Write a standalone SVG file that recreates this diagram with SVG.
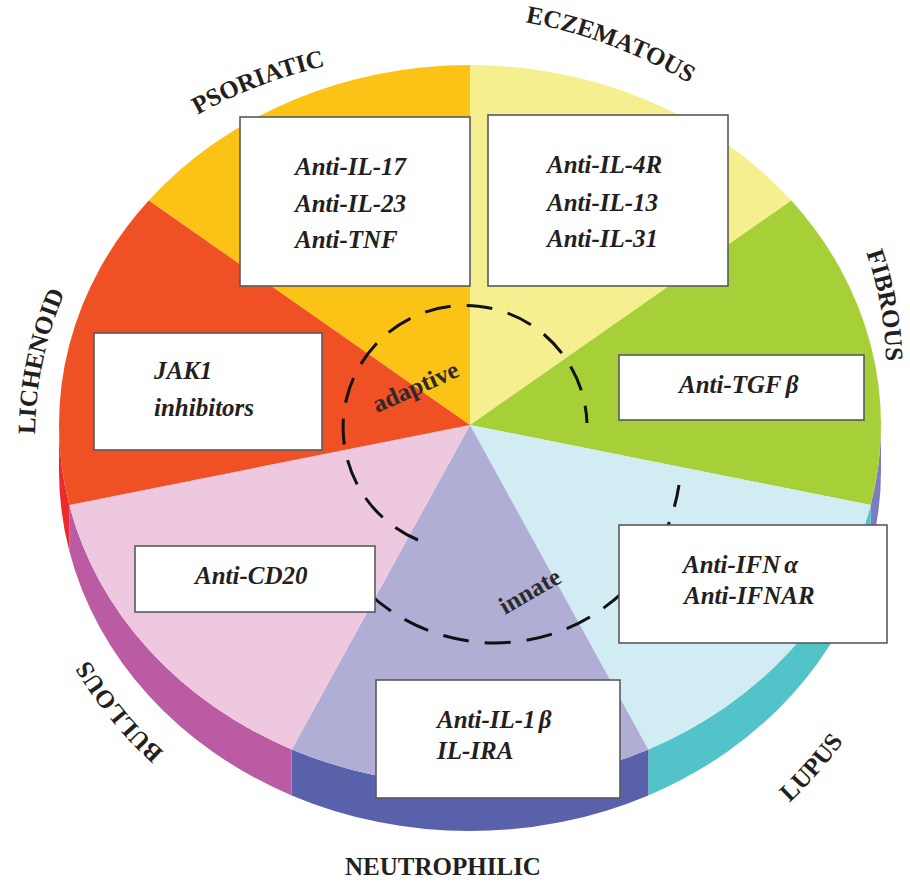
<svg xmlns="http://www.w3.org/2000/svg" width="910" height="882" viewBox="0 0 910 882">
<style>
.box{fill:#ffffff;stroke:#58595b;stroke-width:1.6}
.drug{font-family:"Liberation Serif","Times New Roman",serif;font-weight:bold;font-style:italic;font-size:25px;fill:#231f20}
.lab{font-family:"Liberation Serif","Times New Roman",serif;font-weight:bold;font-size:25px;fill:#231f20}
.zone{font-family:"Liberation Serif","Times New Roman",serif;font-weight:bold;font-size:25px;fill:#2b2b2b}
.dash{fill:none;stroke:#111111;stroke-width:3;stroke-dasharray:26 16}
</style>
<defs>
<path id="pPso" d="M 197,115 A 450 400 0 0 1 326,66"/>
<path id="pEcz" d="M 524,22 A 450 400 0 0 1 690,84"/>
<path id="pFib" d="M 866,252 A 450 400 0 0 1 886,362"/>
<path id="pLic" d="M 35,437 A 450 400 0 0 1 66,290"/>
<path id="pBul" d="M 162,750 A 450 400 0 0 1 90,662"/>
<path id="pLup" d="M 790,802 A 450 400 0 0 0 843,742"/>
</defs>
<rect width="910" height="882" fill="#ffffff"/>
<g id="pie">
<g id="sides">
<path d="M 881,425 A 411 360 0 0 1 870.7,505 L 870.7,551 A 411 360 0 0 0 881,471 Z" fill="#7c7dc1"/>
<path d="M 870.7,505 A 411 360 0 0 1 648.3,749.4 L 648.3,795.4 A 411 360 0 0 0 870.7,551 Z" fill="#52c4c9"/>
<path d="M 648.3,749.4 A 411 360 0 0 1 291.7,749.4 L 291.7,795.4 A 411 360 0 0 0 648.3,795.4 Z" fill="#5a61ab"/>
<path d="M 291.7,749.4 A 411 360 0 0 1 69.3,505 L 69.3,551 A 411 360 0 0 0 291.7,795.4 Z" fill="#bb5ba3"/>
<path d="M 69.3,505 A 411 360 0 0 1 59,425 L 59,471 A 411 360 0 0 0 69.3,551 Z" fill="#ec2a2c"/>
</g>
<g id="slices">
<path id="s-psoriatic" d="M 470,425 L 148.7,200.5 A 411 360 0 0 1 470,65 Z" fill="#fcc317"/>
<path id="s-eczematous" d="M 470,425 L 470,65 A 411 360 0 0 1 791.3,200.5 Z" fill="#f6ef8f"/>
<path id="s-fibrous" d="M 470,425 L 791.3,200.5 A 411 360 0 0 1 870.7,505 Z" fill="#a7cf38"/>
<path id="s-lupus" d="M 470,425 L 870.7,505 A 411 360 0 0 1 648.3,749.4 Z" fill="#d2ecf3"/>
<path id="s-neutrophilic" d="M 470,425 L 648.3,749.4 A 411 360 0 0 1 291.7,749.4 Z" fill="#b0aed4"/>
<path id="s-bullous" d="M 470,425 L 291.7,749.4 A 411 360 0 0 1 69.3,505 Z" fill="#edc8df"/>
<path id="s-lichenoid" d="M 470,425 L 69.3,505 A 411 360 0 0 1 148.7,200.5 Z" fill="#ef5024"/>
</g>
</g>
<g id="connectors">
<path class="dash" d="M 418,540 A 122 122 0 1 1 587,423"/>
<path class="dash" d="M 370.5,595 A 186 186 0 0 0 679,485"/>
</g>
<g id="zones">
<text class="zone" transform="translate(377,413) rotate(-24)">adaptive</text>
<text class="zone" transform="translate(505,615) rotate(-30)">innate</text>
</g>
<g id="box-psoriatic">
<rect class="box" x="240" y="117" width="230" height="169"/>
<text class="drug" x="295" y="175">Anti-IL-17</text>
<text class="drug" x="295" y="212">Anti-IL-23</text>
<text class="drug" x="295" y="248">Anti-TNF</text>
</g>
<g id="box-eczematous">
<rect class="box" x="488" y="115" width="240" height="171"/>
<text class="drug" x="547" y="173">Anti-IL-4R</text>
<text class="drug" x="547" y="211">Anti-IL-13</text>
<text class="drug" x="547" y="247">Anti-IL-31</text>
</g>
<g id="box-lichenoid">
<rect class="box" x="94" y="333" width="228" height="117"/>
<text class="drug" x="154" y="379">JAK1</text>
<text class="drug" x="154" y="416">inhibitors</text>
</g>
<g id="box-fibrous">
<rect class="box" x="619" y="355" width="245" height="65"/>
<text class="drug" x="679" y="393">Anti-TGF<tspan dx="4">β</tspan></text>
</g>
<g id="box-bullous">
<rect class="box" x="135" y="546" width="240" height="66"/>
<text class="drug" x="195" y="584">Anti-CD20</text>
</g>
<g id="box-lupus">
<rect class="box" x="619" y="525" width="268" height="118"/>
<text class="drug" x="683" y="573">Anti-IFN<tspan dx="4">α</tspan></text>
<text class="drug" x="684" y="604">Anti-IFNAR</text>
</g>
<g id="box-neutrophilic">
<rect class="box" x="376" y="680" width="244" height="118"/>
<text class="drug" x="437" y="728">Anti-IL-1<tspan dx="3">β</tspan></text>
<text class="drug" x="437" y="759">IL-IRA</text>
</g>
<g id="labels">
<text class="lab"><textPath href="#pPso" startOffset="50%" text-anchor="middle">PSORIATIC</textPath></text>
<text class="lab"><textPath href="#pEcz" startOffset="50%" text-anchor="middle">ECZEMATOUS</textPath></text>
<text class="lab"><textPath href="#pFib" startOffset="50%" text-anchor="middle">FIBROUS</textPath></text>
<text class="lab"><textPath href="#pLic" startOffset="50%" text-anchor="middle">LICHENOID</textPath></text>
<text class="lab"><textPath href="#pBul" startOffset="50%" text-anchor="middle">BULLOUS</textPath></text>
<text class="lab"><textPath href="#pLup" startOffset="50%" text-anchor="middle">LUPUS</textPath></text>
<text class="lab" x="443" y="875" text-anchor="middle">NEUTROPHILIC</text>
</g>
</svg>
